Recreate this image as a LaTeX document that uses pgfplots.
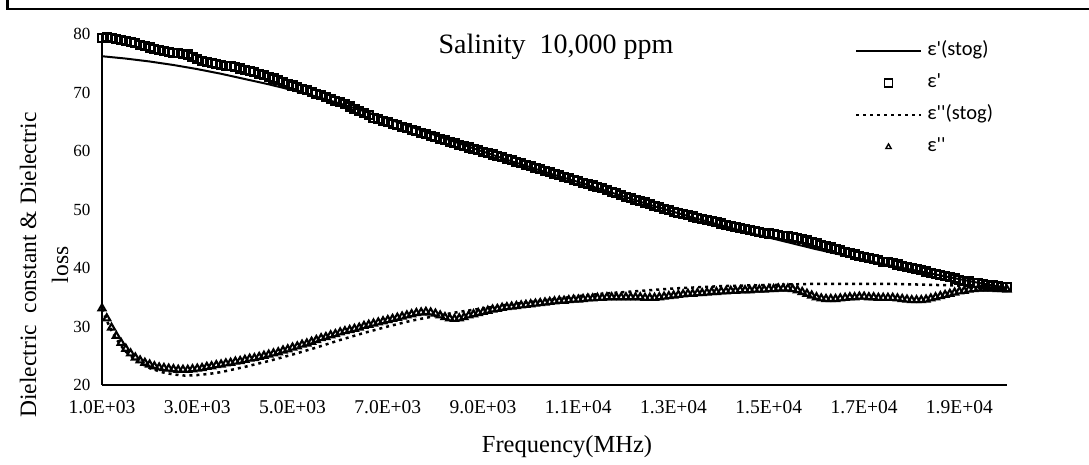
\documentclass[border=0pt]{standalone}
\usepackage{pgfplots}
\usepackage{pgfplotstable}
\pgfplotsset{compat=1.18}
\usepackage{fontspec}
\setmainfont{Liberation Serif}
\newfontfamily\legfont{Carlito}

\pgfplotstableread{
x y
1000 76.2
1500 75.8
2000 75.3
2500 74.7
3000 74.0
3500 73.2
4000 72.3
4500 71.4
5000 70.4
5500 69.3
6000 68.1
6500 66.8
7000 65.5
7500 64.1
8000 62.7
8500 61.3
9000 59.9
9500 58.5
10000 57.2
10500 55.9
11000 54.7
11500 53.4
12000 52.1
12500 50.8
13000 49.6
13500 48.4
14000 47.3
14500 46.2
15000 45.2
15500 44.2
16000 43.2
16500 42.3
17000 41.4
17500 40.5
18000 39.7
18500 38.9
19000 38.1
19500 37.3
20000 36.6
}\epsfit

\pgfplotstableread{
x y
1000 79.3
1100 79.4
1200 79.3
1300 79.2
1400 79.0
1500 78.8
1600 78.6
1700 78.4
1800 78.1
1900 77.9
2000 77.7
2100 77.5
2200 77.3
2300 77.1
2400 76.9
2500 76.8
2600 76.7
2700 76.6
2800 76.5
2900 76.1
3000 75.7
3100 75.4
3200 75.2
3300 75.0
3400 74.9
3500 74.7
3600 74.6
3700 74.5
3800 74.3
3900 74.1
4000 73.9
4100 73.7
4200 73.5
4300 73.2
4400 73.0
4500 72.7
4600 72.4
4700 72.1
4800 71.8
4900 71.5
5000 71.2
5100 70.9
5200 70.6
5300 70.4
5400 70.1
5500 69.8
5600 69.5
5700 69.2
5800 68.9
5900 68.6
6000 68.3
6100 68.0
6200 67.6
6300 67.2
6400 66.9
6500 66.5
6600 66.1
6700 65.7
6800 65.4
6900 65.1
7000 64.9
7100 64.6
7200 64.4
7300 64.1
7400 63.9
7500 63.6
7600 63.4
7700 63.1
7800 62.9
7900 62.6
8000 62.4
8100 62.1
8200 61.9
8300 61.6
8400 61.4
8500 61.1
8600 60.9
8700 60.6
8800 60.4
8900 60.1
9000 59.9
9100 59.6
9200 59.4
9300 59.1
9400 58.9
9500 58.6
9600 58.4
9700 58.1
9800 57.9
9900 57.6
10000 57.4
10100 57.1
10200 56.9
10300 56.6
10400 56.4
10500 56.1
10600 55.9
10700 55.6
10800 55.4
10900 55.1
11000 54.9
11100 54.6
11200 54.4
11300 54.1
11400 53.8
11500 53.6
11600 53.3
11700 53.0
11800 52.8
11900 52.5
12000 52.2
12100 52.0
12200 51.7
12300 51.4
12400 51.2
12500 50.9
12600 50.6
12700 50.4
12800 50.1
12900 49.9
13000 49.6
13100 49.4
13200 49.2
13300 49.0
13400 48.8
13500 48.6
13600 48.4
13700 48.2
13800 48.0
13900 47.8
14000 47.6
14100 47.4
14200 47.2
14300 47.0
14400 46.9
14500 46.7
14600 46.5
14700 46.4
14800 46.2
14900 46.0
15000 45.9
15100 45.8
15200 45.6
15300 45.5
15400 45.4
15500 45.3
15600 45.1
15700 44.9
15800 44.7
15900 44.4
16000 44.2
16100 44.0
16200 43.7
16300 43.5
16400 43.3
16500 43.0
16600 42.8
16700 42.5
16800 42.3
16900 42.1
17000 41.9
17100 41.7
17200 41.5
17300 41.3
17400 41.1
17500 41.0
17600 40.8
17700 40.6
17800 40.4
17900 40.2
18000 40.0
18100 39.8
18200 39.6
18300 39.4
18400 39.2
18500 39.0
18600 38.8
18700 38.6
18800 38.4
18900 38.2
19000 38.0
19100 37.8
19200 37.7
19300 37.5
19400 37.4
19500 37.2
19600 37.1
19700 37.0
19800 36.9
19900 36.8
20000 36.7
}\epsdata

\pgfplotstableread{
x y
1000 33.0
1100 31.0
1200 29.3
1300 27.9
1400 26.7
1500 25.7
1750 24.0
2000 22.9
2250 22.2
2500 21.8
2750 21.6
3000 21.7
3250 21.9
3500 22.2
4000 23.1
4500 24.1
5000 25.2
5500 26.4
6000 27.7
6500 28.9
7000 30.0
7500 31.0
8000 31.8
8500 32.5
9000 33.1
9500 33.7
10000 34.2
10500 34.7
11000 35.2
11500 35.6
12000 35.9
12500 36.2
13000 36.5
13500 36.7
14000 36.9
14500 37.0
15000 37.1
15500 37.2
16000 37.3
16500 37.3
17000 37.3
17500 37.3
18000 37.2
18500 37.1
19000 37.0
19500 36.9
20000 36.7
}\lossfit

\pgfplotstableread{
x y
1000 33.1
1100 31.4
1200 29.8
1300 28.4
1400 27.2
1500 26.2
1600 25.4
1700 24.7
1800 24.2
1900 23.8
2000 23.5
2100 23.2
2200 23.0
2300 22.9
2400 22.8
2500 22.7
2600 22.6
2700 22.6
2800 22.6
2900 22.7
3000 22.8
3100 22.9
3200 23.1
3300 23.2
3400 23.4
3500 23.5
3600 23.7
3700 23.8
3800 24.0
3900 24.1
4000 24.3
4100 24.5
4200 24.6
4300 24.8
4400 25.0
4500 25.2
4600 25.4
4700 25.6
4800 25.9
4900 26.1
5000 26.4
5100 26.6
5200 26.9
5300 27.1
5400 27.4
5500 27.7
5600 28.0
5700 28.2
5800 28.5
5900 28.7
6000 29.0
6100 29.2
6200 29.4
6300 29.6
6400 29.8
6500 30.1
6600 30.3
6700 30.5
6800 30.7
6900 30.9
7000 31.1
7100 31.3
7200 31.5
7300 31.7
7400 31.9
7500 32.1
7600 32.3
7700 32.4
7800 32.5
7900 32.4
8000 32.2
8100 31.9
8200 31.6
8300 31.4
8400 31.3
8500 31.4
8600 31.6
8700 31.9
8800 32.1
8900 32.3
9000 32.5
9100 32.7
9200 32.9
9300 33.0
9400 33.2
9500 33.3
9600 33.4
9700 33.5
9800 33.6
9900 33.7
10000 33.8
10100 33.9
10200 34.0
10300 34.1
10400 34.2
10500 34.3
10600 34.4
10700 34.4
10800 34.5
10900 34.6
11000 34.6
11100 34.7
11200 34.8
11300 34.8
11400 34.9
11500 34.9
11600 35.0
11700 35.0
11800 35.0
11900 35.0
12000 35.0
12100 35.0
12200 35.0
12300 35.0
12400 34.9
12500 34.9
12600 34.9
12700 35.0
12800 35.1
12900 35.2
13000 35.3
13100 35.4
13200 35.5
13300 35.6
13400 35.6
13500 35.7
13600 35.7
13700 35.8
13800 35.9
13900 35.9
14000 36.0
14100 36.0
14200 36.1
14300 36.1
14400 36.2
14500 36.2
14600 36.2
14700 36.3
14800 36.3
14900 36.3
15000 36.4
15100 36.4
15200 36.5
15300 36.5
15400 36.5
15500 36.4
15600 36.2
15700 35.9
15800 35.6
15900 35.3
16000 35.0
16100 34.8
16200 34.7
16300 34.7
16400 34.7
16500 34.8
16600 34.9
16700 35.0
16800 35.0
16900 35.1
17000 35.1
17100 35.0
17200 35.0
17300 34.9
17400 34.9
17500 34.9
17600 34.9
17700 34.8
17800 34.7
17900 34.6
18000 34.5
18100 34.5
18200 34.5
18300 34.6
18400 34.8
18500 35.0
18600 35.2
18700 35.4
18800 35.6
18900 35.8
19000 36.0
19100 36.1
19200 36.3
19300 36.4
19400 36.5
19500 36.5
19600 36.5
19700 36.5
19800 36.4
19900 36.4
20000 36.3
}\lossdata

\begin{document}
\begin{tikzpicture}
\useasboundingbox (0pt,0pt) rectangle (1089pt,465pt);
\draw[line width=2.5pt] (7.5pt,465pt) -- (7.5pt,456pt) -- (1089pt,456pt);

\begin{axis}[
  at={(102pt,80pt)}, anchor=south west,
  scale only axis, width=905pt, height=351pt,
  xmin=1000, xmax=20000, ymin=20, ymax=80,
  axis x line=bottom, axis y line=left,
  axis line style={-, line width=1.5pt},
  scaled x ticks=false, scaled y ticks=false,
  xtick={1000,3000,5000,7000,9000,11000,13000,15000,17000,19000},
  xticklabels={1.0E+03,3.0E+03,5.0E+03,7.0E+03,9.0E+03,1.1E+04,1.3E+04,1.5E+04,1.7E+04,1.9E+04},
  ytick={20,30,40,50,60,70,80},
  major tick length=0pt,
  /pgf/number format/assume math mode=true,
  xticklabel style={font=\fontsize{19.5}{22}\selectfont, yshift=-12pt},
  yticklabel style={font=\fontsize{17}{20}\selectfont, xshift=-8pt},
  clip=false,
  legend cell align=left,
  legend style={draw=none, fill=none, at={(axis cs:16800,79.1)}, anchor=north west,
    font=\legfont\fontsize{20.5}{24}\selectfont, inner sep=0pt, row sep=9pt, column sep=3pt,
    nodes={inner sep=2pt, text height=14pt, text depth=5pt}},
  legend image code/.code={\draw[mark repeat=2,mark phase=2,#1] plot coordinates {(0pt,0pt) (32.5pt,0pt) (65pt,0pt)};},
]
\addplot[black, line width=2pt, no marks] table {\epsfit};
\addlegendentry{ε'(stog)}
\addplot[only marks, mark=square, mark size=4pt, mark options={black, line width=2.1pt},
  legend image post style={mark options={line width=1.4pt}}] table {\epsdata};
\addlegendentry{ε'}
\addplot[black, line width=2.5pt, dash pattern=on 3pt off 4pt, no marks] table {\lossfit};
\addlegendentry{ε''(stog)}
\addplot[only marks, mark=triangle, mark size=4pt, mark options={black, line width=2.1pt},
  legend image post style={mark size=3pt, mark options={line width=1.4pt}}] table {\lossdata};
\addlegendentry{ε''}
\end{axis}

\node[font=\fontsize{28}{33}\selectfont] at (556pt,418pt) {Salinity\ \ 10,000 ppm};
\node[font=\fontsize{24.5}{29}\selectfont] at (567pt,18pt) {Frequency(MHz)};
\node[font=\fontsize{23.5}{32}\selectfont, rotate=90, align=center] at (44pt,200pt) {Dielectric\ \ constant \& Dielectric\\loss};
\end{tikzpicture}
\end{document}
